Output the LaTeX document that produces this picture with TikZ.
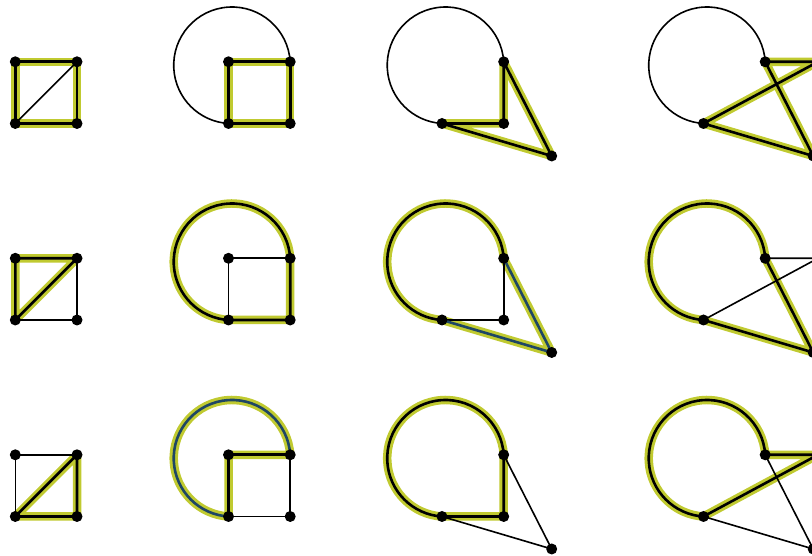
\documentclass[tikz,border=0pt]{standalone}
\definecolor{hly}{RGB}{192,202,48}
\definecolor{hlb}{RGB}{30,70,100}
\tikzset{
  dot/.style={circle,fill=black,inner sep=0pt,minimum size=11pt},
  thinedge/.style={line width=1.6pt,black,line join=round},
  glow/.style={line width=8.5pt,hly,line cap=round,line join=round},
  boldedge/.style={line width=2.6pt,black,line cap=round,line join=round},
  blueedge/.style={line width=2.6pt,hlb,line cap=round,line join=round},
}
\begin{document}
\begin{tikzpicture}[x=1pt,y=1pt]
\useasboundingbox (0,0) rectangle (812,556);
\clip (0,0) rectangle (812,556);
\foreach \r/\y in {1/432.5,2/236,3/39.5}{
  \coordinate (Pa\r) at (15.3,\y);
  \coordinate (Pb\r) at (77,\y);
  \coordinate (Pc\r) at (77,\y+61.7);
  \coordinate (Pd\r) at (15.3,\y+61.7);
  \coordinate (Qa\r) at (228.5,\y);
  \coordinate (Qb\r) at (290.2,\y);
  \coordinate (Qc\r) at (290.2,\y+61.7);
  \coordinate (Qd\r) at (228.5,\y+61.7);
  \coordinate (Ra\r) at (442,\y);
  \coordinate (Rb\r) at (503.7,\y);
  \coordinate (Rc\r) at (503.7,\y+61.7);
  \coordinate (Rf\r) at (551.7,\y-32.5);
  \coordinate (Sa\r) at (703.5,\y);
  \coordinate (Sb\r) at (765.2,\y+61.7);
  \coordinate (Sc\r) at (818,\y+61.7);
  \coordinate (Sf\r) at (813.2,\y-32.5);
}
% ---------- row 1 ----------
\draw[glow] (Pa1) -- (Pb1) -- (Pc1) -- (Pd1) -- cycle;
\draw[glow] (Qa1) -- (Qb1) -- (Qc1) -- (Qd1) -- cycle;
\draw[glow] (Ra1) -- (Rb1) -- (Rc1) -- (Rf1) -- cycle;
\draw[glow] (Sb1) -- (Sc1) -- (Sa1) -- (Sf1) -- cycle;
\draw[thinedge] (Pa1) -- (Pc1);
\draw[thinedge] (Qc1) arc[start angle=3.44,end angle=266.56,radius=58.3pt];
\draw[thinedge] (Rc1) arc[start angle=3.44,end angle=266.56,radius=58.3pt];
\draw[thinedge] (Sb1) arc[start angle=3.44,end angle=266.56,radius=58.3pt];
\draw[boldedge] (Pa1) -- (Pb1) -- (Pc1) -- (Pd1) -- cycle;
\draw[boldedge] (Qa1) -- (Qb1) -- (Qc1) -- (Qd1) -- cycle;
\draw[boldedge] (Ra1) -- (Rb1) -- (Rc1) -- (Rf1) -- cycle;
\draw[boldedge] (Sb1) -- (Sc1) -- (Sa1) -- (Sf1) -- cycle;
% ---------- row 2 ----------
\draw[glow] (Pd2) -- (Pc2) -- (Pa2) -- cycle;
\draw[glow] (Qc2) arc[start angle=3.44,end angle=266.56,radius=58.3pt] -- (Qb2) -- cycle;
\draw[glow] (Rc2) arc[start angle=3.44,end angle=266.56,radius=58.3pt] -- (Rf2) -- cycle;
\draw[glow] (Sb2) arc[start angle=3.44,end angle=266.56,radius=58.3pt] -- (Sf2) -- cycle;
\draw[thinedge] (Pa2) -- (Pb2) -- (Pc2);
\draw[thinedge] (Qa2) -- (Qd2) -- (Qc2);
\draw[thinedge] (Ra2) -- (Rb2) -- (Rc2);
\draw[thinedge] (Sb2) -- (Sc2) -- (Sa2);
\draw[boldedge] (Pd2) -- (Pc2) -- (Pa2) -- cycle;
\draw[boldedge] (Qc2) arc[start angle=3.44,end angle=266.56,radius=58.3pt] -- (Qb2) -- cycle;
\draw[boldedge] (Rc2) arc[start angle=3.44,end angle=266.56,radius=58.3pt];
\draw[blueedge] (Rc2) -- (Rf2) -- (Ra2);
\draw[boldedge] (Sb2) arc[start angle=3.44,end angle=266.56,radius=58.3pt] -- (Sf2) -- cycle;
% ---------- row 3 ----------
\draw[glow] (Pc3) -- (Pb3) -- (Pa3) -- cycle;
\draw[glow] (Qc3) arc[start angle=3.44,end angle=266.56,radius=58.3pt] -- (Qd3) -- cycle;
\draw[glow] (Rc3) arc[start angle=3.44,end angle=266.56,radius=58.3pt] -- (Rb3) -- cycle;
\draw[glow] (Sb3) arc[start angle=3.44,end angle=266.56,radius=58.3pt] -- (Sc3) -- cycle;
\draw[thinedge] (Pa3) -- (Pd3) -- (Pc3);
\draw[thinedge] (Qa3) -- (Qb3) -- (Qc3);
\draw[thinedge] (Rc3) -- (Rf3) -- (Ra3);
\draw[thinedge] (Sb3) -- (Sf3) -- (Sa3);
\draw[boldedge] (Pc3) -- (Pb3) -- (Pa3) -- cycle;
\draw[blueedge] (Qc3) arc[start angle=3.44,end angle=266.56,radius=58.3pt];
\draw[boldedge] (Qa3) -- (Qd3) -- (Qc3);
\draw[boldedge] (Rc3) arc[start angle=3.44,end angle=266.56,radius=58.3pt] -- (Rb3) -- cycle;
\draw[boldedge] (Sb3) arc[start angle=3.44,end angle=266.56,radius=58.3pt] -- (Sc3) -- cycle;
% ---------- vertices ----------
\foreach \r in {1,2,3}{
  \foreach \v in {Pa,Pb,Pc,Pd,Qa,Qb,Qc,Qd,Ra,Rb,Rc,Rf,Sa,Sb,Sc,Sf}{
    \node[dot] (\v\r-dot) at (\v\r) {};
  }
}
\end{tikzpicture}
\end{document}
